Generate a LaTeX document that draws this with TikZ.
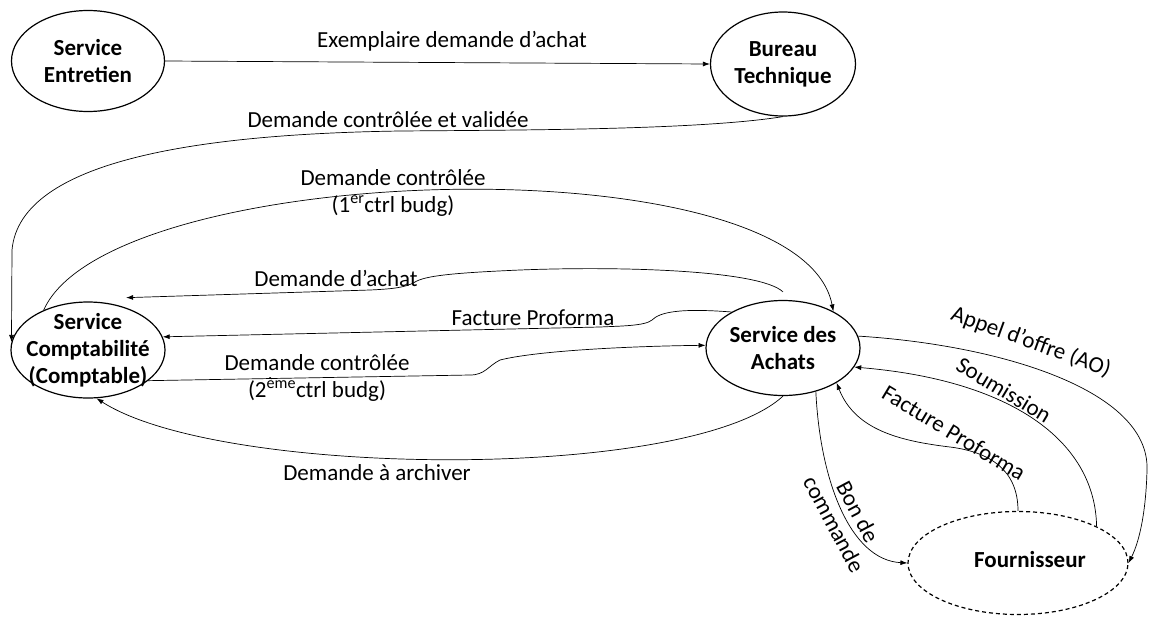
\documentclass[tikz,border=0pt]{standalone}
\usepackage{fontspec}
\setmainfont{Carlito}
\usetikzlibrary{arrows.meta,shapes.geometric}
\begin{document}
\begin{tikzpicture}[x=1pt,y=-1pt,
  every node/.style={font=\fontsize{23}{27}\selectfont},
  ell/.style={draw, ellipse, line width=1.2pt, inner sep=0pt},
  ntxt/.style={font=\fontsize{23}{27}\selectfont\bfseries, align=center, inner sep=0pt},
  lbl/.style={inner sep=0pt, align=center},
  conn/.style={draw, line width=0.7pt, -{Latex[length=7pt,width=5pt]}},
  ]
\useasboundingbox (0,0) rectangle (1149,630);
% nodes
\node[ell, minimum width=153pt, minimum height=101pt] (se) at (88,61) {};
\node[ntxt] (seT) at (se) {Service\\Entretien};
\node[ell, minimum width=145pt, minimum height=104pt] (bt) at (783,64) {};
\node[ntxt] (btT) at (bt) {Bureau\\Technique};
\node[ell, minimum width=154pt, minimum height=96pt] (comp) at (88,350) {};
\node[ntxt] (compT) at (comp) {Service\\Comptabilité\\(Comptable)};
\node[ell, minimum width=154pt, minimum height=95pt] (ach) at (783,348) {};
\node[ntxt] (achT) at (ach) {Service des\\Achats};
\node[ell, dash pattern=on 4pt off 3pt, minimum width=220pt, minimum height=103pt] (four) at (1018,563) {};
\node[ntxt] (fourT) at (1030,560) {Fournisseur};
% connectors
\draw[conn] (se.east) -- (bt.west);
\draw[conn] (bt.south) .. controls (700,130) and (520,130) .. (400,131)
   .. controls (200,134) and (20,160) .. (12,250) -- (comp.174);
\draw[conn] (comp.138) .. controls (110,160) and (800,140) .. (ach.36);
\draw[conn] ([yshift=8pt]ach.north) .. controls (760,270) and (620,266) .. (520,270)
   .. controls (450,273) and (425,276) .. (415,282)
   .. controls (405,288) and (390,289) .. (370,290) -- ([yshift=10pt]comp.48);
\draw[conn] (ach.145) .. controls (680,308) and (660,312) .. (652,320)
   .. controls (645,326) and (620,326) .. (600,327) -- (comp.10);
\draw[conn] (comp.-27) -- (470,375) .. controls (485,375) and (488,366) .. (500,360)
   .. controls (540,350) and (640,346) .. (ach.178);
\draw[conn] (ach.south) .. controls (690,482) and (220,478) .. (comp.-80);
\draw[conn] (ach.9) .. controls (1000,345) and (1150,390) .. (1147,470)
   .. controls (1146,510) and (1140,540) .. (four.east);
\draw[conn] (four.25) .. controls (1095,440) and (1010,380) .. (ach.-15);
\draw[conn] (four.north) .. controls (1018,470) and (990,452) .. (950,447)
   .. controls (900,441) and (855,430) .. (ach.-33);
\draw[conn] (ach.-53) .. controls (820,480) and (850,560) .. (four.west);
% labels
\node[lbl] (l1) at (452,41) {Exemplaire demande d’achat};
\node[lbl] (l2) at (388,120) {Demande contrôlée et validée};
\node[lbl] (l3) at (393,193) {Demande contrôlée\\(1\textsuperscript{er}ctrl budg)};
\node[lbl] (l4) at (336,278) {Demande d’achat};
\node[lbl] (l5) at (533,318) {Facture Proforma};
\node[lbl] (l6) at (317,378) {Demande contrôlée\\(2\textsuperscript{ème}ctrl budg)};
\node[lbl] (l7) at (377,473) {Demande à archiver};
\node[lbl, rotate=-20] (l8) at (1031,342) {Appel d’offre (AO)};
\node[lbl, rotate=-31] (l9) at (1004,390) {Soumission};
\node[lbl, rotate=-31] (l10) at (954,433) {Facture Proforma};
\node[lbl, rotate=-62] (l11) at (846,518) {Bon de\\commande};
\end{tikzpicture}
\end{document}
